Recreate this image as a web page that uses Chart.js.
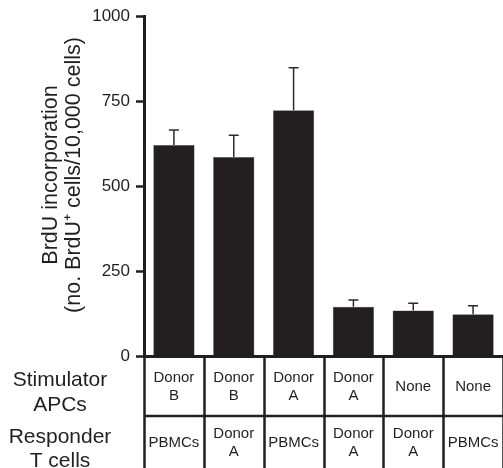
<!DOCTYPE html>
<html>
<head>
<meta charset="utf-8">
<script src="https://cdn.jsdelivr.net/npm/chart.js@4.4.1/dist/chart.umd.min.js"></script>
<style>
  body { margin: 0; background: #fff; }
  canvas { display: block; }
</style>
</head>
<body>
<canvas id="brduChart" width="503" height="468"></canvas>
<script>
// データ
const stimulatorAPCs = [['Donor', 'B'], ['Donor', 'B'], ['Donor', 'A'], ['Donor', 'A'], ['None'], ['None']];
const responderTCells = [['PBMCs'], ['Donor', 'A'], ['PBMCs'], ['Donor', 'A'], ['Donor', 'A'], ['PBMCs']];
const brduValues = [621, 586, 723, 145, 134, 123];
const brduErrors = [44, 64, 125, 20, 21, 25];
const yTicks = [0, 250, 500, 750, 1000];
const yTitle = ['BrdU incorporation', '(no. BrdU\u207A cells/10,000 cells)'];
const rowTitles = [['Stimulator', 'APCs'], ['Responder', 'T cells']];

const ink = '#231f20';
const fontFamily = '"Liberation Sans", Arial, Helvetica, sans-serif';

// エラーバー（上側のみ）
const errorBars = {
  id: 'errorBars',
  afterDatasetsDraw(chart) {
    const { ctx, scales: { y } } = chart;
    const meta = chart.getDatasetMeta(0);
    ctx.save();
    ctx.strokeStyle = '#2b2b2b';
    ctx.lineWidth = 1.5;
    meta.data.forEach((bar, i) => {
      const top = y.getPixelForValue(brduValues[i]);
      const cap = y.getPixelForValue(brduValues[i] + brduErrors[i]);
      ctx.beginPath();
      ctx.moveTo(bar.x, top);
      ctx.lineTo(bar.x, cap);
      ctx.moveTo(bar.x - 5, cap);
      ctx.lineTo(bar.x + 5, cap);
      ctx.stroke();
    });
    ctx.restore();
  }
};

// 下の表と軸タイトル
const conditionTable = {
  id: 'conditionTable',
  afterDraw(chart) {
    const { ctx, chartArea, scales: { x } } = chart;
    const n = stimulatorAPCs.length;
    const cw = x.width / n;
    const top = chartArea.bottom;
    const mid = top + 60;
    const bottom = chart.height;

    ctx.save();
    ctx.strokeStyle = ink;
    ctx.lineWidth = 2.5;
    ctx.beginPath();
    for (let i = 0; i <= n; i++) {
      const px = Math.round(chartArea.left + i * cw) + 0.5;
      ctx.moveTo(px, top);
      ctx.lineTo(px, bottom);
    }
    ctx.moveTo(chartArea.left, mid);
    ctx.lineTo(chartArea.right, mid);
    ctx.stroke();

    ctx.fillStyle = ink;
    ctx.textAlign = 'center';
    ctx.textBaseline = 'middle';
    ctx.font = '15px ' + fontFamily;
    const drawCell = (lines, cx, cy) => {
      const lh = 18;
      const y0 = cy - (lines.length - 1) * lh / 2;
      lines.forEach((t, k) => ctx.fillText(t, cx, y0 + k * lh));
    };
    for (let i = 0; i < n; i++) {
      const cx = x.getPixelForValue(i);
      drawCell(stimulatorAPCs[i], cx, top + 31);
      drawCell(responderTCells[i], cx, mid + 27);
    }

    // 行タイトル
    ctx.font = '21px ' + fontFamily;
    ctx.fillText(rowTitles[0][0], 60, 380);
    ctx.fillText(rowTitles[0][1], 60, 405);
    ctx.fillText(rowTitles[1][0], 60, 437);
    ctx.fillText(rowTitles[1][1], 60, 461);

    // 縦軸タイトル
    ctx.font = '21.5px ' + fontFamily;
    ctx.translate(51, 175);
    ctx.rotate(-Math.PI / 2);
    ctx.fillText(yTitle[0], 0, 0);
    ctx.fillText(yTitle[1], 0, 23);
    ctx.restore();
  }
};

const ctx = document.getElementById('brduChart').getContext('2d');
new Chart(ctx, {
  type: 'bar',
  data: {
    labels: stimulatorAPCs.map((s, i) => s.join(' ') + ' / ' + responderTCells[i].join(' ')),
    datasets: [{
      data: brduValues,
      backgroundColor: ink,
      borderColor: '#555',
      borderWidth: 0.5,
      categoryPercentage: 1,
      barPercentage: 0.69
    }]
  },
  options: {
    responsive: false,
    animation: false,
    layout: { padding: { top: 16, right: -3, bottom: 112, left: 0 } },
    plugins: { legend: { display: false }, tooltip: { enabled: false } },
    scales: {
      x: {
        grid: { display: false },
        ticks: { display: false },
        border: { display: true, color: ink, width: 3 },
        afterFit: (scale) => { scale.height = 0; }
      },
      y: {
        min: 0,
        max: 1000,
        afterFit: (scale) => { scale.width = 144; },
        afterBuildTicks: (scale) => { scale.ticks = yTicks.map(v => ({ value: v })); },
        grid: {
          display: true,
          drawOnChartArea: false,
          drawTicks: true,
          tickLength: 8,
          tickWidth: 2.5,
          tickColor: ink
        },
        border: { display: true, color: ink, width: 3 },
        ticks: {
          color: ink,
          padding: 6,
          font: { family: fontFamily, size: 17 },
          callback: (v) => String(v)
        }
      }
    }
  },
  plugins: [errorBars, conditionTable]
});
</script>
</body>
</html>
